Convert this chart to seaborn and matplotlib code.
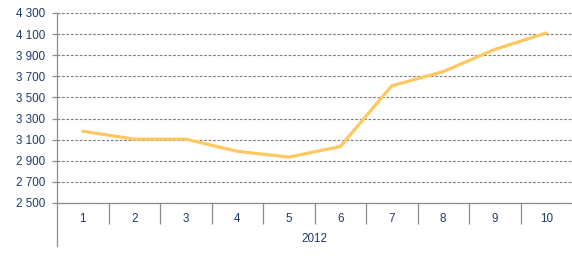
import matplotlib
matplotlib.use("Agg")
import matplotlib.pyplot as plt
import seaborn as sns
import pandas as pd

months = [1, 2, 3, 4, 5, 6, 7, 8, 9, 10]
values = [3180, 3105, 3105, 2990, 2935, 3035, 3610, 3745, 3955, 4110]
year_label = "2012"
yticks = [2500, 2700, 2900, 3100, 3300, 3500, 3700, 3900, 4100, 4300]

sns.set_style("white")
plt.rcParams['font.family'] = ['Liberation Sans', 'DejaVu Sans']

text_color = "#1F3A6B"
axis_color = "#8C8C8C"
fs = 8.4

df = pd.DataFrame({"x": list(range(1, len(months) + 1)), "v": values})

fig = plt.figure(figsize=(5.72, 2.6), dpi=100)
ax = fig.add_axes([57 / 572, (260 - 203) / 260, 515 / 572, 190 / 260])

sns.lineplot(data=df, x="x", y="v", ax=ax, color="#FFC75F", linewidth=2.3, zorder=3)

ax.set_xlim(0.5, len(months) + 0.5)
ax.set_ylim(2500, 4300)
ax.set_yticks(yticks)
ax.set_yticklabels([f"{t:,}".replace(",", " ") for t in yticks], color=text_color, fontsize=fs)
ax.yaxis.grid(True, linestyle=(0, (2.5, 1.5)), color="#7F7F7F", linewidth=0.8)
ax.xaxis.grid(False)

ax.set_xticks(df["x"])
ax.set_xticklabels([str(m) for m in months], color=text_color, fontsize=fs)
ax.tick_params(axis="x", which="major", length=0, pad=7, bottom=True)
ax.set_xticks([i + 0.5 for i in range(1, len(months))], minor=True)
ax.tick_params(axis="x", which="minor", length=15, color=axis_color, width=0.9, bottom=True)
ax.tick_params(axis="y", which="major", length=3.5, color=axis_color, width=0.9, left=True, pad=5)

for s in ["top", "right"]:
    ax.spines[s].set_visible(False)
for s in ["left", "bottom"]:
    ax.spines[s].set_color(axis_color)
    ax.spines[s].set_linewidth(0.9)

# extension of left axis below the category axis
ax.plot([0.5, 0.5], [0, -43 / 190], transform=ax.get_xaxis_transform(), color=axis_color,
        linewidth=0.9, clip_on=False)

ax.set_xlabel("")
ax.set_ylabel("")
ax.text(0.5 * (1 + len(months)), -36 / 190, year_label, transform=ax.get_xaxis_transform(),
        ha="center", va="center", color=text_color, fontsize=fs)

fig.savefig("out.png", dpi=100)
